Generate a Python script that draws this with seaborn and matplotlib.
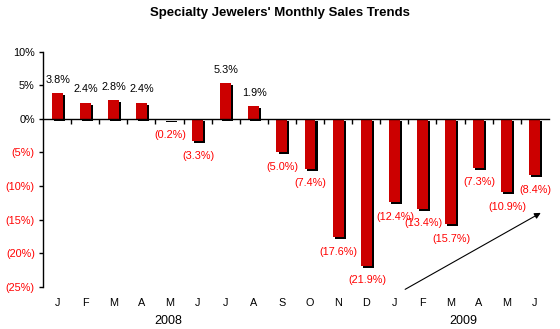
import matplotlib
matplotlib.use("Agg")
import matplotlib.pyplot as plt
import matplotlib.patheffects as pe
import matplotlib.transforms as mtransforms
import pandas as pd
import seaborn as sns

# Monthly sales change, Jan 2008 - Jun 2009 (percent)
periods = ["2008-01", "2008-02", "2008-03", "2008-04", "2008-05", "2008-06",
           "2008-07", "2008-08", "2008-09", "2008-10", "2008-11", "2008-12",
           "2009-01", "2009-02", "2009-03", "2009-04", "2009-05", "2009-06"]
month_labels = ["J", "F", "M", "A", "M", "J", "J", "A", "S", "O", "N", "D",
                "J", "F", "M", "A", "M", "J"]
values = [3.8, 2.4, 2.8, 2.4, -0.2, -3.3, 5.3, 1.9, -5.0, -7.4, -17.6, -21.9,
          -12.4, -13.4, -15.7, -7.3, -10.9, -8.4]
years = ["2008", "2009"]
year_positions = [3.95, 14.45]
y_ticks = [10, 5, 0, -5, -10, -15, -20, -25]

BAR_RED = "#CC0000"
TEXT_RED = "#FF0000"

sns.set_theme(style="white")
plt.rcParams["font.family"] = ["Liberation Sans", "DejaVu Sans"]
plt.rcParams["text.color"] = "black"

df = pd.DataFrame({"period": periods, "change": values})

fig = plt.figure(figsize=(5.6, 3.29), dpi=100)
ax = fig.add_axes([0.077, 0.1286, 0.903, 0.7144])

sns.barplot(data=df, x="period", y="change", color=BAR_RED, saturation=1,
            width=0.39, ax=ax, linewidth=0)

for p in ax.patches:
    p.set_path_effects([pe.SimplePatchShadow(offset=(1.5, -1.5),
                                             shadow_rgbFace="black", alpha=1),
                        pe.Normal()])

def fmt(v):
    return f"{v:.1f}%" if v >= 0 else f"({abs(v):.1f}%)"

for i, v in enumerate(values):
    if v >= 0:
        ax.annotate(fmt(v), (i, v), xytext=(0.5, 9.5), textcoords="offset points",
                    ha="center", va="center", fontsize=7.8, color="black")
    else:
        ax.annotate(fmt(v), (i, v), xytext=(0.5, -10.5), textcoords="offset points",
                    ha="center", va="center", fontsize=7.8, color=TEXT_RED)

ax.set_xlim(-0.5, len(values) - 0.5)
ax.set_ylim(-25, 10)

# y axis
ax.set_yticks(y_ticks)
ax.set_yticklabels([f"{t}%" if t >= 0 else f"({abs(t)}%)" for t in y_ticks],
                   fontsize=7.8)
for lbl, t in zip(ax.get_yticklabels(), y_ticks):
    lbl.set_color("black" if t >= 0 else TEXT_RED)
ax.tick_params(axis="y", direction="out", length=3, width=1, color="black", pad=3,
               left=True)

# x axis drawn along zero, ticks between categories
ax.spines["bottom"].set_position(("data", 0))
ax.spines["top"].set_visible(False)
ax.spines["right"].set_visible(False)
for s in ("left", "bottom"):
    ax.spines[s].set_color("black")
    ax.spines[s].set_linewidth(1)
ax.set_xticks([i + 0.5 for i in range(len(values) - 1)])
ax.set_xticklabels([])
ax.tick_params(axis="x", direction="out", length=3.5, width=1, color="black",
               bottom=True)
ax.set_xlabel("")
ax.set_ylabel("")

trans = mtransforms.blended_transform_factory(ax.transData, ax.transAxes)
for i, m in enumerate(month_labels):
    ax.text(i, -0.069, m, transform=trans, ha="center", va="center", fontsize=7.8,
            color="black")
for x, yr in zip(year_positions, years):
    ax.text(x, -0.145, yr, transform=trans, ha="center", va="center", fontsize=9,
            color="black")

ax.annotate("", xy=(17.3, -13.8), xytext=(12.3, -25.6),
            arrowprops=dict(arrowstyle="-|>", color="black", lw=0.8,
                            mutation_scale=9),
            annotation_clip=False)

fig.text(0.5, 0.96, "Specialty Jewelers' Monthly Sales Trends", ha="center",
         va="center", fontsize=9.5, fontweight="bold", color="black")

fig.savefig("out.png", dpi=100, facecolor="white")
